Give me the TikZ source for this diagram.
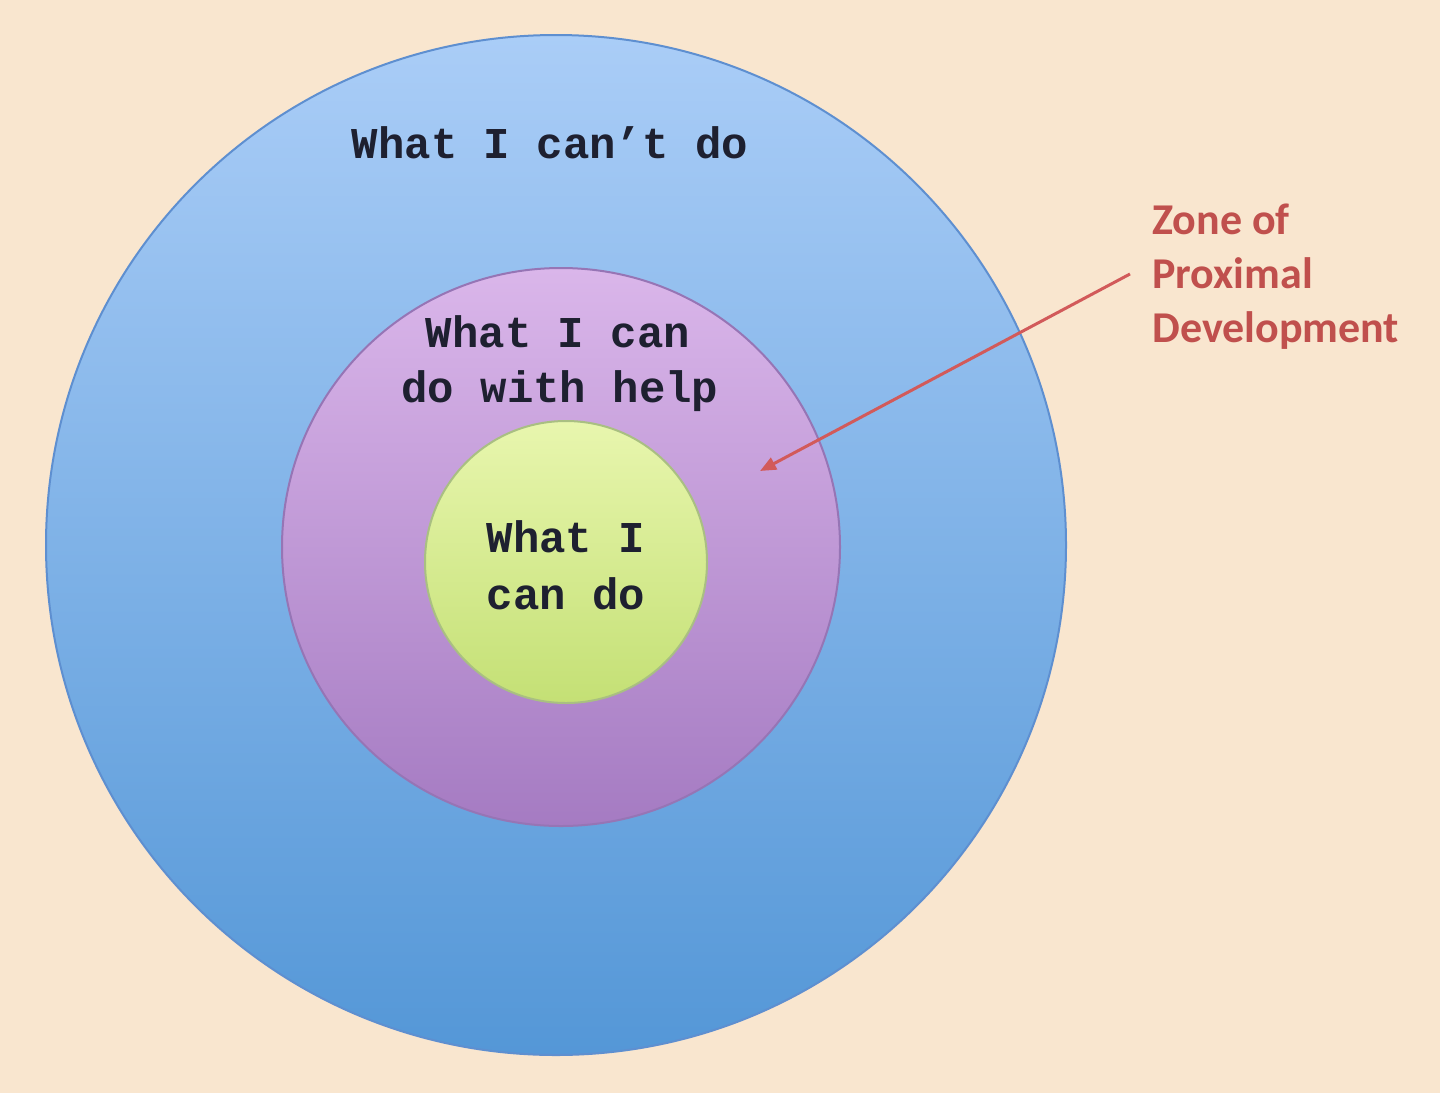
\documentclass[tikz,border=0pt]{standalone}
\usepackage{fontspec}
\setmainfont{Carlito}
\setmonofont{Liberation Mono}
\usetikzlibrary{arrows.meta}
\definecolor{bgpeach}{HTML}{F9E6CF}
\definecolor{bluetop}{HTML}{AACDF7}
\definecolor{bluebot}{HTML}{5497D7}
\definecolor{blueline}{HTML}{5E8FD0}
\definecolor{purptop}{HTML}{DAB6EA}
\definecolor{purpbot}{HTML}{A57BC2}
\definecolor{purpline}{HTML}{9675B5}
\definecolor{greentop}{HTML}{E8F6AE}
\definecolor{greenbot}{HTML}{C4E075}
\definecolor{greenline}{HTML}{A9BF82}
\definecolor{zpdred}{HTML}{C0504D}
\definecolor{arrowred}{HTML}{D25A5A}
\definecolor{txtdark}{HTML}{1E2030}
\begin{document}
\begin{tikzpicture}[x=0.5pt,y=-0.5pt,
  ring/.style={circle, inner sep=0pt, outer sep=0pt, line width=1pt},
  monotext/.style={anchor=base, inner sep=0pt, text=txtdark,
    font=\ttfamily\bfseries\fontsize{22}{28}\selectfont},
  zpdtext/.style={anchor=base west, inner sep=0pt, text=zpdred,
    font=\bfseries\fontsize{22}{27}\selectfont},
  pointer/.style={draw=arrowred, line width=1.5pt,
    -{Triangle[length=8pt,width=6.5pt]}}]
\useasboundingbox (0,0) rectangle (1440,1093);
\fill[bgpeach] (0,0) rectangle (1440,1093);
\node[ring, minimum size=510pt, draw=blueline, top color=bluetop, bottom color=bluebot] (outer) at (556,545) {};
\node[ring, minimum size=279pt, draw=purpline, top color=purptop, bottom color=purpbot] (middle) at (561,547) {};
\node[ring, minimum size=141pt, draw=greenline, top color=greentop, bottom color=greenbot] (inner) at (566,562) {};
\node[monotext] (cant) at (550,158) {What I can’t do};
\node[monotext] (help1) at (558,347) {What I can};
\node[monotext] (help2) at (560,402) {do with help};
\node[monotext] (can1) at (566,552) {What I};
\node[monotext] (can2) at (566,609) {can do};
\node[zpdtext] (zpd1) at (1152,234) {Zone of};
\node[zpdtext] (zpd2) at (1152,288) {Proximal};
\node[zpdtext] (zpd3) at (1152,342) {Development};
\coordinate (tail) at (1130,274);
\coordinate (tip) at (760,471);
\draw[pointer] (tail) -- (tip);
\end{tikzpicture}
\end{document}
